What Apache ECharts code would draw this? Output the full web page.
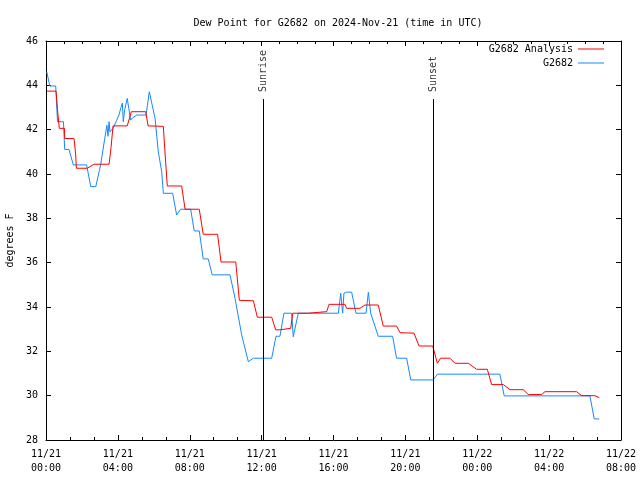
<!DOCTYPE html>
<html><head><meta charset="utf-8">
<script src="https://cdn.jsdelivr.net/npm/echarts@6/dist/echarts.min.js"></script>
<style>html,body{margin:0;padding:0;background:#fff}#c{width:640px;height:480px}</style>
</head><body><div id="c"></div>
<script>
// hours since 2024-11-21 00:00 UTC
const xTickLabels = ['11/21\n00:00','11/21\n04:00','11/21\n08:00','11/21\n12:00','11/21\n16:00','11/21\n20:00','11/22\n00:00','11/22\n04:00','11/22\n08:00'];
const analysisHours = [0.04,0.56,0.64,0.74,1.03,1.04,1.56,1.65,1.69,2.30,2.67,3.51,3.62,3.73,4.52,4.75,5.55,5.68,6.53,6.62,6.75,7.55,7.74,8.53,8.75,9.55,9.74,10.56,10.76,11.54,11.76,12.56,12.78,13.02,13.06,13.62,13.73,14.60,14.65,15.62,15.75,16.64,16.73,17.47,17.75,18.49,18.77,19.51,19.70,20.48,20.76,21.52,21.78,21.96,22.48,22.76,23.50,23.97,24.56,24.80,25.45,25.82,26.56,26.84,27.58,27.77,29.53,29.81,30.55,30.79];
const analysisDew   = [43.74,43.74,42.9,42.06,42.06,41.6,41.6,40.9,40.26,40.26,40.44,40.44,41.2,42.17,42.17,42.81,42.81,42.17,42.15,41.0,39.46,39.46,38.41,38.41,37.28,37.28,36.03,36.03,34.3,34.28,33.54,33.54,32.97,32.97,33.04,33.04,33.72,33.72,33.79,33.79,34.12,34.12,33.94,33.94,34.09,34.09,33.14,33.14,32.84,32.82,32.24,32.24,31.46,31.69,31.69,31.46,31.46,31.19,31.19,30.5,30.5,30.27,30.27,30.05,30.05,30.18,30.18,30.0,30.0,29.91];
const obsHours = [0.04,0.18,0.22,0.54,0.64,0.97,1.04,1.28,1.52,2.26,2.49,2.77,3.04,3.23,3.39,3.45,3.51,3.56,3.73,3.92,4.06,4.17,4.25,4.30,4.38,4.52,4.71,4.84,5.05,5.57,5.75,5.79,6.07,6.25,6.44,6.53,7.05,7.27,7.49,8.05,8.25,8.53,8.75,9.03,9.25,10.24,10.52,10.89,11.26,11.35,11.54,12.56,12.80,13.02,13.24,13.67,13.76,14.04,16.27,16.40,16.51,16.58,16.73,17.01,17.25,17.81,17.94,18.07,18.49,19.29,19.51,20.07,20.30,21.55,21.78,23.69,23.80,24.30,25.26,25.50,30.27,30.51,30.79];
const obsDew   = [44.62,44.09,43.97,43.97,42.36,42.36,41.11,41.11,40.41,40.41,39.43,39.43,40.41,41.4,42.2,41.7,42.36,41.9,42.06,42.4,42.66,43.0,43.2,42.36,42.9,43.41,42.43,42.55,42.66,42.66,43.71,43.56,42.51,41.0,40.1,39.13,39.13,38.15,38.41,38.41,37.43,37.43,36.17,36.17,35.45,35.45,34.39,32.74,31.53,31.54,31.69,31.69,32.68,32.68,33.72,33.72,32.66,33.72,33.72,34.62,33.72,34.62,34.67,34.67,33.72,33.72,34.67,33.72,32.68,32.68,31.69,31.69,30.71,30.71,30.97,30.97,31.0,30.97,30.97,29.99,29.99,28.95,28.95];
const sunriseHour = 12.08, sunsetHour = 21.54, sunLineTop = 43.38;

const FONT = 'DejaVu Sans Mono';
const pair = (xs, ys) => xs.map((x, i) => [x, ys[i]]);
const chart = echarts.init(document.getElementById('c'), null, {renderer: 'canvas'});
const axisCommon = {
  axisLine: {show: true, onZero: false, lineStyle: {color: '#000', width: 1}},
  splitLine: {show: false}
};
chart.setOption({
  animation: false,
  backgroundColor: '#fff',
  textStyle: {fontFamily: FONT, fontSize: 10, color: '#000'},
  title: {
    text: 'Dew Point for G2682 on 2024-Nov-21 (time in UTC)',
    left: 333, top: 13, textAlign: 'center',
    textStyle: {fontFamily: FONT, fontSize: 10, fontWeight: 'normal', color: '#000'}
  },
  legend: {
    right: 31, top: 38, orient: 'vertical', align: 'right',
    icon: 'rect', itemWidth: 26, itemHeight: 1, itemGap: 2,
    textStyle: {fontFamily: FONT, fontSize: 10, color: '#000', lineHeight: 12},
    data: ['G2682 Analysis', 'G2682']
  },
  grid: {left: 46, right: 19, top: 41, bottom: 40, containLabel: false, outerBoundsMode: 'none'},
  xAxis: [
    Object.assign({}, axisCommon, {
      type: 'value', min: 0, max: 32, interval: 4, position: 'bottom',
      axisTick: {show: true, inside: true, length: 5, lineStyle: {color: '#000'}},
      minorTick: {show: true, splitNumber: 3, length: 3, lineStyle: {color: '#000'}},
      axisLabel: {margin: 7, color: '#000', fontFamily: FONT, fontSize: 10, lineHeight: 14,
        formatter: v => xTickLabels[Math.round(v / 4)]}
    }),
    Object.assign({}, axisCommon, {
      type: 'value', min: 0, max: 32, interval: 4, position: 'top',
      axisTick: {show: true, inside: true, length: 5, lineStyle: {color: '#000'}},
      minorTick: {show: true, splitNumber: 4, length: 3, lineStyle: {color: '#000'}},
      axisLabel: {show: false}
    })
  ],
  yAxis: [
    Object.assign({}, axisCommon, {
      type: 'value', min: 28, max: 46, interval: 2, position: 'left',
      name: 'degrees F', nameLocation: 'middle', nameGap: 31, nameRotate: 90,
      nameTextStyle: {fontFamily: FONT, fontSize: 10, color: '#000'},
      axisTick: {show: true, inside: true, length: 5, lineStyle: {color: '#000'}},
      axisLabel: {margin: 8, color: '#000', fontFamily: FONT, fontSize: 10}
    }),
    Object.assign({}, axisCommon, {
      type: 'value', min: 28, max: 46, interval: 2, position: 'right',
      axisTick: {show: true, inside: true, length: 5, lineStyle: {color: '#000'}},
      axisLabel: {show: false}
    })
  ],
  series: [
    {
      name: 'G2682 Analysis', type: 'line', symbol: 'none', z: 3,
      data: pair(analysisHours, analysisDew),
      lineStyle: {color: '#ff0000', width: 1}, itemStyle: {color: '#ff0000'}
    },
    {
      name: 'G2682', type: 'line', symbol: 'none', z: 2,
      data: pair(obsHours, obsDew),
      lineStyle: {color: '#1589ff', width: 1}, itemStyle: {color: '#1589ff'}
    },
    {
      name: 'sun', type: 'scatter', symbolSize: 0, silent: true, z: 4,
      data: [
        {value: [sunriseHour, sunLineTop], name: 'Sunrise'},
        {value: [sunsetHour, sunLineTop], name: 'Sunset'}
      ],
      label: {show: true, formatter: p => p.name, position: 'top', distance: 7,
        rotate: 90, align: 'left', verticalAlign: 'middle',
        fontFamily: FONT, fontSize: 10, color: '#000'},
      markLine: {
        silent: true, symbol: 'none', animation: false,
        lineStyle: {color: '#000', width: 1, type: 'solid'},
        label: {show: false},
        data: [
          [{coord: [sunriseHour, sunLineTop]}, {coord: [sunriseHour, 28]}],
          [{coord: [sunsetHour, sunLineTop]}, {coord: [sunsetHour, 28]}]
        ]
      }
    }
  ]
});
</script></body></html>
